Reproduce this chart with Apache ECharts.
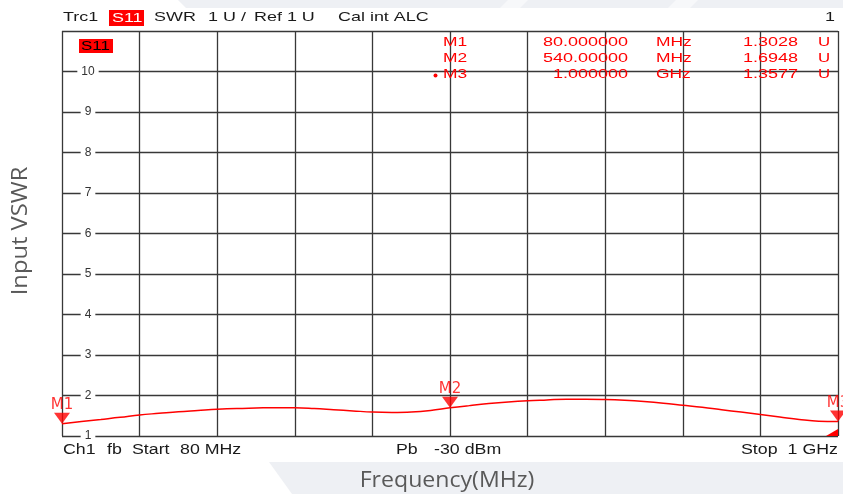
<!DOCTYPE html>
<html><head><meta charset="utf-8">
<script src="https://cdn.jsdelivr.net/npm/echarts@6/dist/echarts.min.js"></script>
<style>html,body{margin:0;padding:0;background:#fff}#c{width:843px;height:494px}</style>
</head><body><div id="c"></div>
<script>
// ---- data ----
const freqMHz = [80,103,126,149,172,195,218,241,264,287,310,333,356,379,402,425,448,471,494,517,540,563,586,609,632,655,678,701,724,747,770,793,816,839,862,885,908,931,954,977,1000];
const vswr    = [1.303,1.36,1.41,1.46,1.52,1.56,1.60,1.63,1.66,1.68,1.69,1.70,1.70,1.68,1.65,1.62,1.59,1.58,1.59,1.63,1.695,1.75,1.80,1.84,1.87,1.89,1.91,1.91,1.90,1.88,1.85,1.81,1.76,1.71,1.65,1.59,1.53,1.47,1.41,1.365,1.358];
const markerNames = ['M1','M2','M3'];
const markerFreq = [80, 540, 1000];
const markerVal = [1.3028, 1.6948, 1.3577];
const markerFreqText = ['80.000000','540.00000','1.000000'];
const markerUnitText = ['MHz','MHz','GHz'];
const markerValText = ['1.3028','1.6948','1.3577'];
const yMin = 1, yMax = 11, yStep = 1;
const xStart = 80, xStop = 1000, xDivisions = 10;
const headerWords = [['Trc1',63],['SWR',154],['1 U /',208],['Ref 1 U',254],['Cal int ALC',338]];
const footerWords = [['Ch1',63],['fb',107],['Start',132],['80 MHz',180],['Pb',396],['-30 dBm',434],['Stop',741]];

const RED = '#ff0000';
const GRIDC = '#383838';
const chart = echarts.init(document.getElementById('c'), null, {renderer:'canvas'});

chart.setOption({
  animation:false,
  backgroundColor:'#ffffff',
  grid:{left:62, right:5, top:31, bottom:58, containLabel:false},
  xAxis:[
    {type:'value', min:xStart, max:xStop, show:false},
    {type:'value', min:0, max:xDivisions, interval:1, position:'bottom',
     axisLine:{show:false}, axisTick:{show:false}, axisLabel:{show:false},
     splitLine:{show:true, lineStyle:{color:GRIDC, width:1.3}}}
  ],
  yAxis:{type:'value', min:yMin, max:yMax, interval:yStep,
    axisLine:{show:false}, axisTick:{show:false},
    splitLine:{show:true, lineStyle:{color:GRIDC, width:1.3}},
    axisLabel:{inside:true, margin:26, align:'center', color:'#333',
      fontSize:12, fontFamily:'Liberation Sans', backgroundColor:'#ffffff', padding:[0,4],
      formatter:v => v === yMax ? '' : String(v)}
  },
  series:[
    {type:'line', xAxisIndex:0, yAxisIndex:0, showSymbol:false, smooth:0.4,
     data:freqMHz.map((f,i)=>[f,vswr[i]]),
     lineStyle:{color:RED, width:1.5}, z:3},
    {type:'scatter', xAxisIndex:0, yAxisIndex:0,
     data:markerFreq.map((f,i)=>({name:markerNames[i], value:[f,markerVal[i]]})),
     symbol:'triangle', symbolRotate:180, symbolSize:[16,11], symbolOffset:[0,-5.5],
     itemStyle:{color:RED},
     label:{show:true, position:'top', distance:0, formatter:'{b}', color:RED,
       fontSize:15, fontFamily:'DejaVu Sans'}, z:4}
  ]
});

function txt(t, x, y, size, opts){
  opts = opts || {};
  return {type:'text', x:x, y:y, z:100, silent:true, scaleX:opts.sx||1.38, rotation:opts.rot||0,
    style:{text:t, fill:opts.fill||'#1a1a1a', fontSize:size, fontFamily:opts.ff||'Liberation Sans',
      align:opts.align||'left', verticalAlign:'middle'}};
}
const g = [];
// background decoration
g.push({type:'polygon', z:-100, silent:true, shape:{points:[[178,0],[843,0],[843,8],[186,8]]}, style:{fill:'#eef0f4'}});
g.push({type:'polygon', z:-99, silent:true, shape:{points:[[508,0],[528,0],[520,8],[500,8]]}, style:{fill:'#f7f8fa'}});
g.push({type:'polygon', z:-99, silent:true, shape:{points:[[676,0],[698,0],[690,8],[668,8]]}, style:{fill:'#f7f8fa'}});
g.push({type:'polygon', z:-100, silent:true, shape:{points:[[269,462],[843,462],[843,494],[292,494]]}, style:{fill:'#eef0f4'}});
// header
headerWords.forEach(w => g.push(txt(w[0], w[1], 17.5, 13)));
g.push({type:'rect', z:99, silent:true, shape:{x:109,y:10,width:35,height:16}, style:{fill:RED}});
g.push(txt('S11', 112, 18, 13, {fill:'#ffffff'}));
g.push(txt('1', 835, 17.5, 13, {align:'right'}));
// S11 trace label inside plot
g.push({type:'rect', z:99, silent:true, shape:{x:79,y:39,width:34,height:14}, style:{fill:RED}});
g.push(txt('S11', 81, 46.5, 13, {fill:'#000000', sx:1.3}));
// marker table
markerNames.forEach((m,i) => {
  const y = 43 + i*16;
  g.push(txt(m, 443, y, 12, {fill:RED, sx:1.45}));
  g.push(txt(markerFreqText[i], 628, y, 12, {fill:RED, sx:1.5, align:'right'}));
  g.push(txt(markerUnitText[i], 656, y, 12, {fill:RED, sx:1.45}));
  g.push(txt(markerValText[i], 798, y, 12, {fill:RED, sx:1.5, align:'right'}));
  g.push(txt('U', 818, y, 12, {fill:RED, sx:1.4}));
});
g.push({type:'circle', z:100, silent:true, shape:{cx:435.5, cy:75.5, r:2}, style:{fill:RED}});
// footer
footerWords.forEach(w => g.push(txt(w[0], w[1], 450, 14, {sx:1.27})));
g.push(txt('1 GHz', 838, 450, 14, {sx:1.27, align:'right'}));
// axis titles
g.push(txt('Frequency(MHz)', 447, 481, 21, {ff:'Open Sans', fill:'#595959', sx:1.1, align:'center'}));
g.push(txt('Input VSWR', 21, 231, 21, {ff:'Open Sans', fill:'#595959', sx:1.13, align:'center', rot:Math.PI/2}));
// reference level wedge at stop frequency
const p = chart.convertToPixel({xAxisIndex:0, yAxisIndex:0}, [xStop, yMin]);
g.push({type:'polygon', z:100, silent:true, shape:{points:[[p[0]-12,p[1]],[p[0],p[1]],[p[0],p[1]-7]]}, style:{fill:RED}});
chart.setOption({graphic:g});
</script></body></html>
